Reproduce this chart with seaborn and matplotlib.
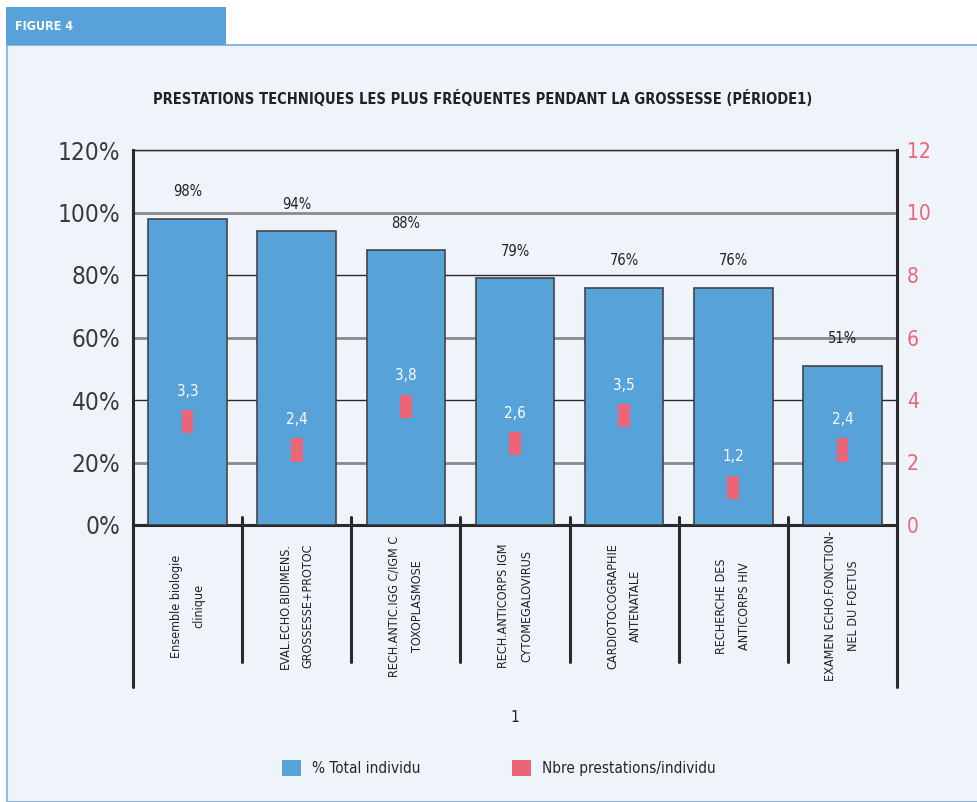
import seaborn as sns
import pandas as pd
import matplotlib.pyplot as plt
from matplotlib.patches import Rectangle, Patch
from matplotlib.ticker import FuncFormatter
import matplotlib.transforms as mtransforms

categories = ["Ensemble biologie\nclinique",
              "EVAL.ECHO.BIDIMENS.\nGROSSESSE+PROTOC",
              "RECH.ANTIC.IGG C/IGM C\nTOXOPLASMOSE",
              "RECH.ANTICORPS IGM\nCYTOMEGALOVIRUS",
              "CARDIOTOCOGRAPHIE\nANTENATALE",
              "RECHERCHE DES\nANTICORPS HIV",
              "EXAMEN ECHO.FONCTION-\nNEL DU FOETUS"]
pct_total = [0.98, 0.94, 0.88, 0.79, 0.76, 0.76, 0.51]
nbre_prest = [3.3, 2.4, 3.8, 2.6, 3.5, 1.2, 2.4]

title = "PRESTATIONS TECHNIQUES LES PLUS FRÉQUENTES PENDANT LA GROSSESSE (PÉRIODE1)"
legend_labels = ["% Total individu", "Nbre prestations/individu"]

BLUE = "#56A2D9"
PINK = "#EC6478"
BG = "#EFF4FB"
DARK = "#2a2a2a"


def main():
    df = pd.DataFrame({'Cat': categories, 'Pct': pct_total, 'Nbre': nbre_prest})

    sns.set_style("white")
    plt.rcParams['font.family'] = ['DejaVu Sans']
    plt.rcParams['font.stretch'] = 'condensed'

    fig = plt.figure(figsize=(9.77, 8.02), dpi=100)
    W, H = 977, 802

    # panel and tab
    fig.patches.append(Rectangle((7 / W, 0), 1, 1 - 45 / H, transform=fig.transFigure,
                                 facecolor=BG, edgecolor="#8DB9E4", lw=1.5, zorder=-10))
    fig.patches.append(Rectangle((6 / W, 1 - 45 / H), 220 / W, 38 / H, transform=fig.transFigure,
                                 facecolor=BLUE, edgecolor='none', zorder=-9))
    fig.text(15 / W, 1 - 27 / H, "FIGURE 4", color='white', fontsize=9, fontweight='bold',
             va='center', ha='left')

    ax = fig.add_axes([133 / W, 1 - 525 / H, 764 / W, 375 / H])
    ax.patch.set_alpha(0)

    sns.barplot(data=df, x='Cat', y='Pct', color=BLUE, width=0.72, edgecolor="#444444",
                linewidth=1.2, saturation=1, ax=ax, zorder=3)
    ax.set_xlim(-0.5, len(categories) - 0.5)
    ax.set_ylim(0, 1.2)
    ax.set_yticks([0, 0.2, 0.4, 0.6, 0.8, 1.0, 1.2])
    ax.yaxis.set_major_formatter(FuncFormatter(lambda v, p: f"{v * 100:.0f}%"))
    ax.tick_params(axis='y', length=0, pad=9, labelsize=17.5, labelcolor="#3a3a3a")
    ax.tick_params(axis='x', length=0, labelbottom=False)
    ax.set_xlabel('')
    ax.set_ylabel('')

    # alternating gridlines
    ax.grid(axis='y')
    ax.set_axisbelow(True)
    for i, gl in enumerate(ax.get_ygridlines()):
        if i % 2 == 1:
            gl.set_color("#8a8a8a")
            gl.set_linewidth(2)
        else:
            gl.set_color(DARK)
            gl.set_linewidth(1)

    for side in ['left', 'bottom', 'right']:
        ax.spines[side].set_color(DARK)
        ax.spines[side].set_linewidth(2.2)
    ax.spines['top'].set_color(DARK)
    ax.spines['top'].set_linewidth(1)

    ax.bar_label(ax.containers[0], labels=[f"{v * 100:.0f}%" for v in pct_total],
                 padding=14, fontsize=10.5, color="#222222")

    # secondary axis
    ax2 = ax.twinx()
    verts = [(-0.5, -1), (0.5, -1), (0.5, 1), (-0.5, 1), (-0.5, -1)]
    sns.scatterplot(data=df, x='Cat', y='Nbre', marker=verts, s=280, color=PINK,
                    edgecolor='none', linewidth=0, ax=ax2, zorder=5, legend=False)
    ax2.set_ylim(0, 12)
    ax2.set_yticks(range(0, 13, 2))
    ax2.tick_params(axis='y', length=0, pad=7, labelsize=15, labelcolor=PINK)
    ax2.set_ylabel('')
    for side in ax2.spines:
        ax2.spines[side].set_visible(False)
    xs = ax.get_xticks()
    for x, v in zip(xs, nbre_prest):
        ax2.annotate(f"{v}".replace('.', ','), (x, v), xytext=(0, 22), textcoords='offset points',
                     ha='center', va='center', color='white', fontsize=11)

    # category separators and labels below axis
    trans = mtransforms.blended_transform_factory(ax.transData, ax.transAxes)
    n = len(categories)
    for k in range(n + 1):
        xb = k - 0.5
        if k in (0, n):
            ax.plot([xb, xb], [0, -0.432], transform=trans, color=DARK, lw=2.2, clip_on=False)
        else:
            ax.plot([xb, xb], [0.021, -0.365], transform=trans, color=DARK, lw=2.2, clip_on=False)
    for x, lab in zip(xs, categories):
        ax.text(x, -0.216, lab, transform=trans, rotation=90, ha='center', va='center',
                multialignment='center', fontsize=9, color="#222222", linespacing=2.0)
    ax.text(0.5, -0.514, "1", transform=ax.transAxes, ha='center', va='center',
            fontsize=11, color="#222222")

    fig.text(483 / W, 1 - 98 / H, title, ha='center', va='center', fontsize=10.5,
             fontweight='bold', color="#222222")

    handles = [Patch(facecolor=BLUE, edgecolor='none'), Patch(facecolor=PINK, edgecolor='none')]
    fig.legend(handles, legend_labels, loc='center', bbox_to_anchor=(499 / W, 1 - 768 / H),
               ncol=2, frameon=False, fontsize=11, handlelength=1.2, handleheight=1.2,
               handletextpad=0.75, columnspacing=6.0)

    fig.savefig('out.png', dpi=100, facecolor='white')


if __name__ == "__main__":
    main()
